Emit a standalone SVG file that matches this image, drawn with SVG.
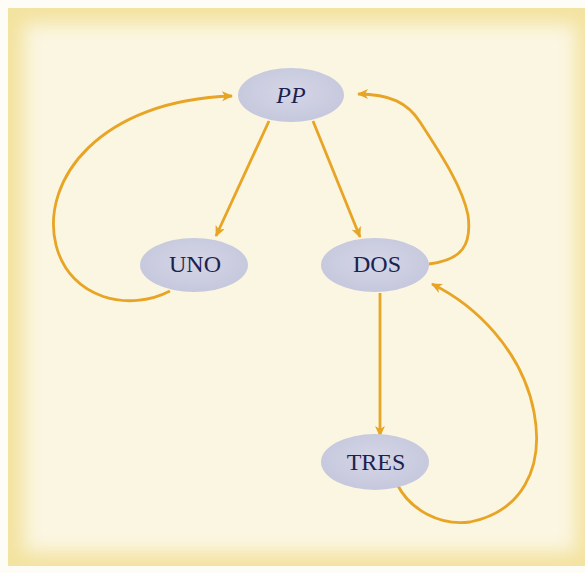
<svg xmlns="http://www.w3.org/2000/svg" width="585" height="573" viewBox="0 0 585 573">
<defs>
<style>
.node ellipse{fill:url(#ng);}
.node text{font-family:"Liberation Serif","Times New Roman",serif;font-size:24px;fill:#1c2250;text-anchor:middle;dominant-baseline:central;}
.edge{fill:none;stroke:#E8A424;stroke-width:2.8;marker-end:url(#ah);}
</style>
<radialGradient id="ng" cx="50%" cy="45%" r="60%">
<stop offset="0" stop-color="#D5D6E6"/>
<stop offset="1" stop-color="#C4C6DC"/>
</radialGradient>
<marker id="ah" viewBox="0 0 12 10" refX="10" refY="5" markerWidth="12" markerHeight="10" markerUnits="userSpaceOnUse" orient="auto">
<path d="M0,0 L11,5 L0,10 L3,5 Z" fill="#E8A424"/>
</marker>
<filter id="blur" x="-10%" y="-10%" width="120%" height="120%">
<feGaussianBlur stdDeviation="9"/>
</filter>
</defs>
<rect x="0" y="0" width="585" height="573" fill="#FDFCF6"/>
<rect x="8" y="8" width="577" height="558" fill="#F3E3A0"/>
<rect x="24" y="24" width="552" height="528" fill="#FBF6E2" filter="url(#blur)"/>
<g id="connectors">
<path class="edge" d="M269,121 L216,236"/>
<path class="edge" d="M313,121 L360,237"/>
<path class="edge" d="M170,291 C130,312 70,300 56,245 C40,180 100,100 232,96"/>
<path class="edge" d="M429,264 C462,260 472,245 468,215 C462,185 438,150 420,122 C408,103 390,94 358,94"/>
<path class="edge" d="M380,293 L380,436"/>
<path class="edge" d="M397,484 C410,510 440,526 470,522 C520,512 545,470 534,412 C522,350 475,305 432,284"/>
</g>
<g id="PP" class="node"><ellipse cx="291" cy="95" rx="53" ry="27"/><text x="291" y="95" font-style="italic">PP</text></g>
<g id="UNO" class="node"><ellipse cx="194" cy="265" rx="54" ry="27"/><text x="195" y="264">UNO</text></g>
<g id="DOS" class="node"><ellipse cx="375" cy="265" rx="54" ry="27"/><text x="377" y="264">DOS</text></g>
<g id="TRES" class="node"><ellipse cx="375" cy="462" rx="54" ry="28"/><text x="376" y="462">TRES</text></g>
</svg>
